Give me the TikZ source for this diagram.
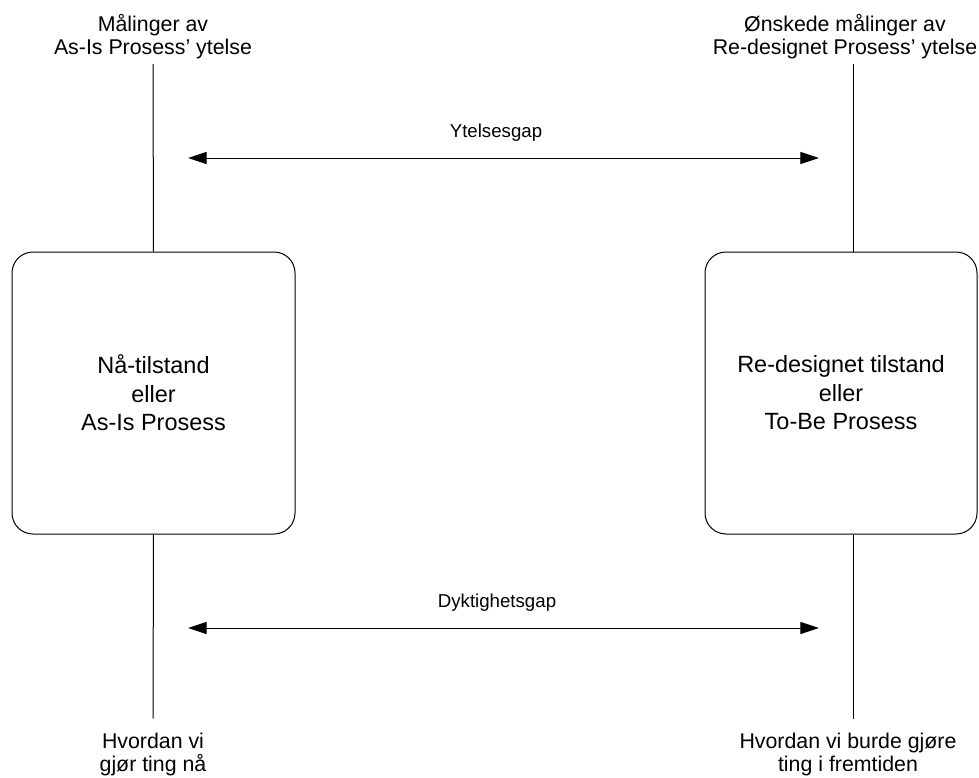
\documentclass[tikz,border=0pt]{standalone}
\usepackage{fontspec}
\setmainfont{Liberation Sans}
\usetikzlibrary{arrows.meta}

\begin{document}
\begin{tikzpicture}[x=0.75pt, y=-0.75pt,
    every path/.style={line width=0.75pt},
    procbox/.style={draw, rounded corners=15.75pt, align=center, inner sep=0pt,
        minimum height=211.5pt, font=\fontsize{17.6pt}{21.4pt}\selectfont},
    endlabel/.style={align=center, inner sep=0pt, font=\fontsize{16pt}{17.5pt}\selectfont},
    gaplabel/.style={inner sep=0pt, anchor=base, font=\fontsize{14pt}{16pt}\selectfont},
    gaparrow/.style={{Triangle[length=14pt, width=9pt]}-{Triangle[length=14pt, width=9pt]}}
  ]
  \useasboundingbox (0,0) rectangle (979,778);

  % the two process states
  \node[procbox, minimum width=212.25pt] (asis) at (153.5,393)
    {Nå-tilstand\\eller\\As-Is Prosess};
  \node[procbox, minimum width=204pt] (tobe) at (841,393)
    {Re-designet tilstand\\eller\\To-Be Prosess};

  % column axis of the right side
  \coordinate (rx) at (853,0);

  % labels at both ends of each column
  \node[endlabel, anchor=south] (measL) at (153,59.5)
    {Målinger av\\As-Is Prosess’ ytelse};
  \node[endlabel, anchor=south] (measR) at (845,59.5)
    {Ønskede målinger av\\Re-designet Prosess’ ytelse};
  \node[endlabel, anchor=north] (howL) at (153,732.5)
    {Hvordan vi\\gjør ting nå};
  \node[endlabel, anchor=north] (howR) at (848,732.5)
    {Hvordan vi burde gjøre\\ting i fremtiden};

  % vertical column lines
  \draw (asis.north) -- ([yshift=-3.5pt]measL.south);
  \draw (asis.south) -- ([yshift=10.5pt]howL.north);
  \draw (tobe.north -| rx) -- ([yshift=-3.5pt]measR.south -| rx);
  \draw (tobe.south -| rx) -- ([yshift=10.5pt]howR.north -| rx);

  % gap arrows
  \coordinate (perfA) at (188,158);
  \coordinate (perfB) at (819,158);
  \coordinate (skillA) at (188,628);
  \coordinate (skillB) at (819,628);
  \draw[gaparrow] (perfA) -- (perfB);
  \draw[gaparrow] (skillA) -- (skillB);
  \node[gaplabel] (perf) at (496,137) {Ytelsesgap};
  \node[gaplabel] (skill) at (497,607) {Dyktighetsgap};
\end{tikzpicture}
\end{document}
